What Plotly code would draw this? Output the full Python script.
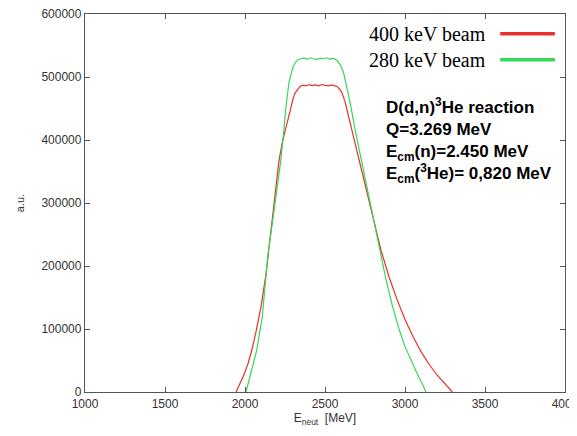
import plotly.graph_objects as go

# neutron energy spectra (MeV, a.u.)
e_400 = [1944, 1970, 1995, 2020, 2045, 2070, 2100, 2130, 2160, 2190, 2212, 2232,
         2250, 2270, 2287, 2300, 2312, 2330, 2344, 2360, 2380, 2400, 2420, 2440,
         2460, 2480, 2500, 2520, 2540, 2560, 2575, 2590, 2604, 2625, 2645, 2667,
         2690, 2720, 2760, 2802, 2850, 2900, 2950, 3000, 3050, 3100, 3150, 3200,
         3250, 3296]
y_400 = [0, 14000, 28000, 46000, 69000, 97000, 135000, 185000, 248000, 313000, 366000, 395000,
         414000, 436000, 453000, 465000, 474000, 481000, 485000, 487000, 486000, 488000, 486500, 487500,
         486000, 488000, 487000, 486000, 487500, 486500, 485000, 481000, 476000, 461000, 440000, 414000,
         390000, 360000, 318000, 272000, 225000, 183000, 147000, 115000, 88000, 64000, 44000, 27000,
         12000, 0]

e_280 = [2006, 2031, 2050, 2073, 2090, 2108, 2125, 2146, 2173, 2200, 2223, 2240,
         2255, 2275, 2300, 2315, 2331, 2350, 2370, 2390, 2410, 2430, 2450, 2470,
         2490, 2510, 2530, 2550, 2565, 2580, 2600, 2615, 2635, 2656, 2690, 2729,
         2765, 2802, 2840, 2880, 2920, 2960, 3000, 3040, 3080, 3110, 3131]
y_280 = [0, 24000, 42000, 66000, 92000, 119000, 168000, 223000, 272000, 322000, 366000, 408000,
         450000, 492000, 516000, 523000, 527500, 529000, 530000, 528500, 530500, 529000, 528000, 530000,
         529000, 530500, 528500, 529500, 528000, 525000, 517000, 508000, 487000, 461000, 414000, 366000,
         318000, 272000, 225000, 180000, 138000, 102000, 72000, 48000, 27000, 12000, 0]

x_ticks = [1000, 1500, 2000, 2500, 3000, 3500, 4000]
y_ticks = [0, 100000, 200000, 300000, 400000, 500000, 600000]

labels = ["400 keV beam", "280 keV beam"]
red = "#e8302c"
green = "#33d855"

info = ("D(d,n)<sup>3</sup>He reaction<br>"
        "Q=3.269 MeV<br>"
        "E<sub>cm</sub>(n)=2.450 MeV<br>"
        "E<sub>cm</sub>(<sup>3</sup>He)= 0,820 MeV")

fig = go.Figure()
fig.add_trace(go.Scatter(x=e_400, y=y_400, mode="lines", name=labels[0],
                         line=dict(color=red, width=1.2)))
fig.add_trace(go.Scatter(x=e_280, y=y_280, mode="lines", name=labels[1],
                         line=dict(color=green, width=1.2)))

axis_style = dict(showline=True, linecolor="#555555", linewidth=1.3, mirror="ticks",
                  ticks="inside", ticklen=5, tickcolor="#555555", showgrid=False,
                  zeroline=False, automargin=False, ticklabeloverflow="allow",
                  tickfont=dict(family="Liberation Sans", size=12, color="#333333"))

# the page body adds 8px on the left and top, so the figure is drawn a bit smaller
fig.update_layout(
    width=569, height=428,
    margin=dict(l=77, r=12, t=6, b=44),
    paper_bgcolor="white", plot_bgcolor="white",
    showlegend=False,
    xaxis=dict(range=[1000, 4000], tickvals=x_ticks, ticktext=[str(v) for v in x_ticks],
               title=dict(text="E<sub>neut</sub>  [MeV]", standoff=4,
                          font=dict(family="Liberation Sans", size=12, color="#333333")),
               **axis_style),
    yaxis=dict(range=[0, 600000], tickvals=y_ticks, ticktext=[str(v) for v in y_ticks],
               title=dict(text="a.u.", standoff=14,
                          font=dict(family="Liberation Sans", size=11, color="#333333")),
               **axis_style),
)

# legend, text left of the line sample as in the original
for i, (lab, col) in enumerate(zip(labels, [red, green])):
    yy = 0.948 - i * 0.069
    fig.add_annotation(xref="paper", yref="paper", x=0.84, y=yy, xanchor="right",
                       yanchor="middle", showarrow=False, text=lab,
                       font=dict(family="Liberation Serif", size=20, color="black"))
    fig.add_shape(type="line", xref="paper", yref="paper", x0=0.865, x1=0.979, y0=yy, y1=yy,
                  line=dict(color=col, width=3.5))

fig.add_annotation(xref="paper", yref="paper", x=0.622, y=0.79, xanchor="left",
                   yanchor="top", showarrow=False, align="left", text=info,
                   font=dict(family="Liberation Sans", size=17, color="black", weight="bold"))

fig.write_html("out.html")
